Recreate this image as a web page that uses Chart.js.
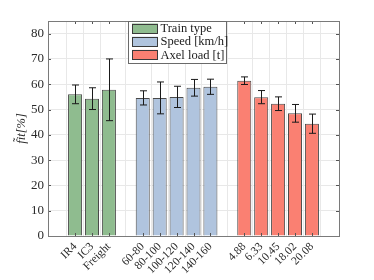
<!DOCTYPE html>
<html><head><meta charset="utf-8">
<script src="https://cdn.jsdelivr.net/npm/chart.js@4.4.1/dist/chart.umd.min.js"></script>
<style>html,body{margin:0;padding:0;background:#fff;}#wrap{width:374px;height:280px;}</style>
</head><body><div id="wrap"><canvas id="c" width="374" height="280"></canvas></div>
<script>
// ---- data ----
const seriesNames = ['Train type', 'Speed [km/h]', 'Axel load [t]'];
const trainLabels = ['IR4', 'IC3', 'Freight'];
const trainValues = [56.0, 54.3, 57.8];
const trainErrors = [3.7, 4.3, 12.2];
const speedLabels = ['60-80', '80-100', '100-120', '120-140', '140-160'];
const speedValues = [54.6, 54.6, 55.0, 58.6, 59.0];
const speedErrors = [2.8, 6.3, 4.2, 3.3, 3.0];
const loadLabels = ['4.88', '6.33', '10.45', '18.02', '20.08'];
const loadValues = [61.4, 54.9, 52.3, 48.5, 44.4];
const loadErrors = [1.5, 2.6, 2.7, 3.5, 3.8];
const yTicks = [0, 10, 20, 30, 40, 50, 60, 70, 80];
const yAxisTitle = 'f\u0303it[%]';

const colors = ['#8fbc8f', '#b0c4de', '#fa8072'];
const groups = [
  {labels: trainLabels, values: trainValues, errors: trainErrors},
  {labels: speedLabels, values: speedValues, errors: speedErrors},
  {labels: loadLabels, values: loadValues, errors: loadErrors}
];
// slot positions: one empty slot between groups
let pos = 0;
const labelAt = {};
const tickPositions = [];
const datasets = groups.map((g, gi) => {
  const data = g.labels.map((lab, i) => {
    const p = pos++;
    labelAt[p] = lab; tickPositions.push(p);
    return {x: p, y: g.values[i], err: g.errors[i]};
  });
  pos++;
  return {
    label: seriesNames[gi], data, backgroundColor: colors[gi],
    borderColor: '#4a4a4a', borderWidth: 1, grouped: false,
    barPercentage: 0.83, categoryPercentage: 1.0
  };
});
const lastPos = pos - 2;
const serif = "'Liberation Serif', 'DejaVu Serif', serif";

const errPlugin = {
  id: 'err',
  afterDatasetsDraw(chart) {
    const ctx = chart.ctx, xs = chart.scales.x, ys = chart.scales.y;
    ctx.save();
    ctx.strokeStyle = '#1a1a1a'; ctx.lineWidth = 1;
    chart.data.datasets.forEach(ds => ds.data.forEach(d => {
      const x = Math.round(xs.getPixelForValue(d.x)) + 0.5;
      const y1 = ys.getPixelForValue(d.y + d.err), y2 = ys.getPixelForValue(d.y - d.err);
      ctx.beginPath();
      ctx.moveTo(x, y1); ctx.lineTo(x, y2);
      ctx.moveTo(x - 3.5, y1); ctx.lineTo(x + 3.5, y1);
      ctx.moveTo(x - 3.5, y2); ctx.lineTo(x + 3.5, y2);
      ctx.stroke();
    }));
    ctx.restore();
  },
  afterDraw(chart) {
    const ctx = chart.ctx, a = chart.chartArea, xs = chart.scales.x, ys = chart.scales.y;
    ctx.save();
    // inward ticks
    ctx.strokeStyle = '#555'; ctx.lineWidth = 1;
    ctx.beginPath();
    tickPositions.forEach(p => {
      const x = Math.round(xs.getPixelForValue(p)) + 0.5;
      ctx.moveTo(x, a.bottom); ctx.lineTo(x, a.bottom - 3);
      ctx.moveTo(x, a.top); ctx.lineTo(x, a.top + 3);
    });
    yTicks.forEach(v => {
      const y = Math.round(ys.getPixelForValue(v)) + 0.5;
      ctx.moveTo(a.left, y); ctx.lineTo(a.left + 3, y);
      ctx.moveTo(a.right, y); ctx.lineTo(a.right - 3, y);
    });
    ctx.stroke();
    // box
    ctx.strokeStyle = '#7a7a7a';
    ctx.strokeRect(Math.round(a.left) + 0.5, Math.round(a.top) + 0.5, Math.round(a.right - a.left), Math.round(a.bottom - a.top));
    // legend
    const lx = 128.5, ly = 21.5, lw = 98, lh = 42;
    ctx.fillStyle = '#fff'; ctx.fillRect(lx, ly, lw, lh);
    ctx.strokeStyle = '#6a6a6a'; ctx.strokeRect(lx, ly, lw, lh);
    ctx.font = '12.5px ' + serif; ctx.textBaseline = 'middle'; ctx.textAlign = 'left';
    chart.data.datasets.forEach((ds, i) => {
      const cy = 28.5 + i * 13.2;
      ctx.fillStyle = ds.backgroundColor;
      ctx.fillRect(132, cy - 5, 26, 10);
      ctx.strokeStyle = '#3a3a3a';
      ctx.strokeRect(132.5, Math.round(cy - 5) + 0.5, 25, 9);
      ctx.fillStyle = '#1a1a1a';
      ctx.fillText(ds.label, 160.5, cy + 0.5);
    });
    ctx.restore();
  }
};

new Chart(document.getElementById('c'), {
  type: 'bar',
  data: {datasets},
  options: {
    responsive: false, animation: false, devicePixelRatio: 1,
    layout: {padding: {top: 21, right: 35, left: 0, bottom: 0}},
    plugins: {legend: {display: false}, tooltip: {enabled: false}},
    scales: {
      x: {
        type: 'linear', min: -1.6, max: lastPos + 1.6, offset: false,
        afterBuildTicks(s) { s.ticks = tickPositions.map(v => ({value: v})); },
        afterFit(s) { s.height = 44; },
        grid: {color: '#e8e8e8', drawTicks: false},
        border: {display: false},
        ticks: {
          autoSkip: false, minRotation: 45, maxRotation: 45, padding: 4,
          color: '#2a2a2a', font: {family: serif, size: 11.5},
          callback: v => labelAt[v] ?? ''
        }
      },
      y: {
        min: 0, max: 85,
        afterBuildTicks(s) { s.ticks = yTicks.map(v => ({value: v})); },
        afterFit(s) { s.width = 48; },
        grid: {color: '#e8e8e8', drawTicks: false},
        border: {display: false},
        ticks: {padding: 4, color: '#2a2a2a', font: {family: serif, size: 13}},
        title: {display: true, text: yAxisTitle, color: '#2a2a2a', padding: {top: 14, bottom: 0},
          font: {family: serif, size: 12.5, style: 'italic'}}
      }
    }
  },
  plugins: [errPlugin]
});
</script></body></html>
